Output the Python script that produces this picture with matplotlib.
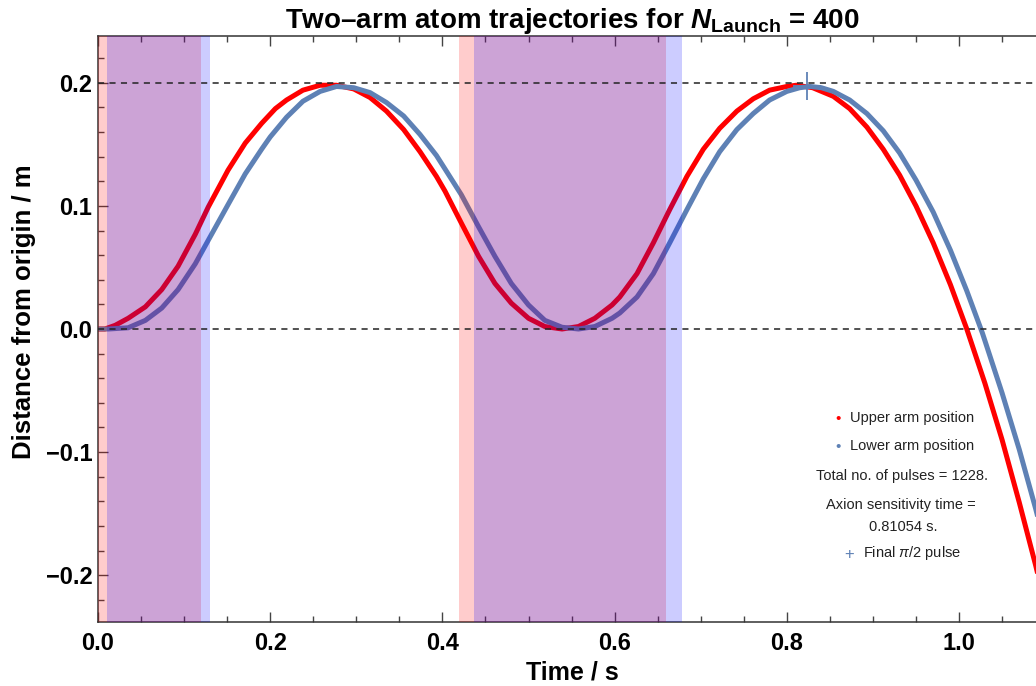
import matplotlib.pyplot as plt
from matplotlib.ticker import MultipleLocator

plt.rcParams['font.family'] = ['Liberation Sans', 'DejaVu Sans']
plt.rcParams['mathtext.fontset'] = 'custom'
plt.rcParams['mathtext.rm'] = 'Liberation Sans'
plt.rcParams['mathtext.it'] = 'Liberation Sans:italic'
plt.rcParams['mathtext.bf'] = 'Liberation Sans:bold'
plt.rcParams['mathtext.bfit'] = 'Liberation Sans:bold:italic'

# upper arm (red)
t_upper = [0.000, 0.008, 0.020, 0.035, 0.055, 0.074, 0.093, 0.113, 0.128, 0.151,
           0.171, 0.190, 0.206, 0.219, 0.238, 0.258, 0.277, 0.297, 0.316, 0.335,
           0.355, 0.374, 0.393, 0.403, 0.422, 0.442, 0.461, 0.480, 0.500, 0.519,
           0.539, 0.558, 0.577, 0.597, 0.606, 0.626, 0.645, 0.664, 0.684, 0.703,
           0.722, 0.742, 0.761, 0.780, 0.800, 0.811, 0.830, 0.854, 0.873, 0.893,
           0.912, 0.931, 0.950, 0.970, 0.990, 1.009, 1.030, 1.050, 1.070, 1.089, 1.100]
y_upper = [0.000, 0.000, 0.003, 0.0087, 0.018, 0.032, 0.051, 0.077, 0.099, 0.129,
           0.151, 0.167, 0.179, 0.186, 0.194, 0.198, 0.198, 0.195, 0.188, 0.177,
           0.162, 0.144, 0.124, 0.112, 0.086, 0.059, 0.037, 0.021, 0.0087, 0.002,
           0.000, 0.002, 0.0087, 0.0195, 0.026, 0.045, 0.070, 0.097, 0.124, 0.146,
           0.163, 0.177, 0.187, 0.194, 0.197, 0.198, 0.196, 0.189, 0.179, 0.164,
           0.146, 0.125, 0.100, 0.070, 0.036, 0.000, -0.044, -0.090, -0.141, -0.192, -0.224]

# lower arm (blue)
t_lower = [0.000, 0.012, 0.035, 0.055, 0.074, 0.093, 0.113, 0.128, 0.151, 0.171,
           0.190, 0.200, 0.219, 0.238, 0.258, 0.277, 0.297, 0.316, 0.335, 0.355,
           0.374, 0.393, 0.403, 0.422, 0.442, 0.461, 0.480, 0.500, 0.519, 0.539,
           0.558, 0.577, 0.597, 0.606, 0.626, 0.645, 0.664, 0.684, 0.703, 0.722,
           0.742, 0.761, 0.780, 0.800, 0.815, 0.827, 0.840, 0.854, 0.873, 0.893,
           0.912, 0.931, 0.950, 0.970, 0.990, 1.009, 1.027, 1.050, 1.070, 1.089, 1.100]
y_lower = [0.000, 0.000, 0.001, 0.007, 0.017, 0.032, 0.053, 0.072, 0.101, 0.126,
           0.146, 0.156, 0.172, 0.185, 0.193, 0.197, 0.196, 0.192, 0.184, 0.173,
           0.158, 0.141, 0.130, 0.109, 0.083, 0.059, 0.037, 0.0195, 0.007, 0.0014,
           0.000, 0.002, 0.0087, 0.013, 0.026, 0.045, 0.070, 0.097, 0.122, 0.144,
           0.162, 0.175, 0.186, 0.193, 0.196, 0.197, 0.196, 0.193, 0.186, 0.175,
           0.161, 0.143, 0.121, 0.095, 0.064, 0.031, -0.003, -0.052, -0.098, -0.146, -0.176]

# pulse windows (start, end) in s
upper_pulses = [(0.000, 0.1196), (0.419, 0.660)]
lower_pulses = [(0.0105, 0.130), (0.437, 0.678)]

final_pulse_t = 0.823
final_pulse_y = 0.197

red = '#ff0000'
blue = '#5e81b5'

fig = plt.figure(figsize=(10.36, 6.86), dpi=100)
W, H = 1036, 686
ax = fig.add_axes([98 / W, 1 - 622 / H, (1046 - 98) / W, (622 - 36) / H])

ax.plot(t_upper, y_upper, color=red, lw=3.6, solid_joinstyle='round', zorder=2)
ax.plot(t_lower, y_lower, color=blue, lw=3.6, solid_joinstyle='round', zorder=2)

for a, b in upper_pulses:
    ax.axvspan(a, b, color=red, alpha=0.2, lw=0, zorder=3)
for a, b in lower_pulses:
    ax.axvspan(a, b, color='#0000ff', alpha=0.2, lw=0, zorder=3)

for yy in (0.2, 0.0):
    ax.axhline(yy, color='#222222', lw=1.1, ls=(0, (4, 3.5)), zorder=4)

ax.plot([final_pulse_t], [final_pulse_y], marker='+', ms=20, mew=1.3,
        color=blue, zorder=5, ls='none')

ax.set_xlim(0, 1.101)
ax.set_ylim(-0.238, 0.238)
ax.xaxis.set_major_locator(MultipleLocator(0.2))
ax.xaxis.set_minor_locator(MultipleLocator(0.05))
ax.yaxis.set_major_locator(MultipleLocator(0.1))
ax.yaxis.set_minor_locator(MultipleLocator(0.02))
ax.xaxis.set_major_formatter(lambda v, p: f"{v:.1f}")
ax.yaxis.set_major_formatter(lambda v, p: f"{v:.1f}".replace('-', '\u2212'))
ax.tick_params(which='both', direction='in', top=True, right=False,
               color='#444444', width=1)
ax.tick_params(which='major', length=7, labelsize=17, pad=7)
ax.tick_params(which='minor', length=4)
ax.tick_params(axis='y', pad=4)
for lab in ax.get_xticklabels() + ax.get_yticklabels():
    lab.set_fontweight('bold')
for s in ax.spines.values():
    s.set_color('#333333')
    s.set_linewidth(1.1)

fig.text(572 / W, 1 - 672 / H, 'Time / s', fontsize=18, fontweight='bold',
         ha='center', va='center')
fig.text(24 / W, 1 - 312 / H, 'Distance from origin / m', fontsize=18.5,
         fontweight='bold', rotation=90, ha='center', va='center')

fig.text(572 / W, 1 - 28 / H,
         r'Two–arm atom trajectories for $\mathbfit{N}_{\mathbf{Launch}}$ = 400',
         ha='center', va='baseline', fontsize=20, fontweight='bold')

# legend block
tc = '#222222'
fs = 10.5
fig.text(838 / W, 1 - 419 / H, '\u2022', color=red, fontsize=11, ha='center', va='center')
fig.text(850 / W, 1 - 418 / H, 'Upper arm position', color=tc, fontsize=fs, ha='left', va='center')
fig.text(838 / W, 1 - 447 / H, '\u2022', color=blue, fontsize=11, ha='center', va='center')
fig.text(850 / W, 1 - 446 / H, 'Lower arm position', color=tc, fontsize=fs, ha='left', va='center')
fig.text(902 / W, 1 - 476 / H, 'Total no. of pulses = 1228.', color=tc, fontsize=fs, ha='center', va='center')
fig.text(901 / W, 1 - 505 / H, 'Axion sensitivity time =', color=tc, fontsize=fs, ha='center', va='center')
fig.text(903 / W, 1 - 527 / H, '0.81054 s.', color=tc, fontsize=fs, ha='center', va='center')
fig.text(849 / W, 1 - 554 / H, '+', color=blue, fontsize=12, ha='center', va='center')
fig.text(863 / W, 1 - 553 / H, r'Final $\mathit{\pi}$/2 pulse', color=tc, fontsize=fs, ha='left', va='center')

fig.savefig('out.png', dpi=100)
